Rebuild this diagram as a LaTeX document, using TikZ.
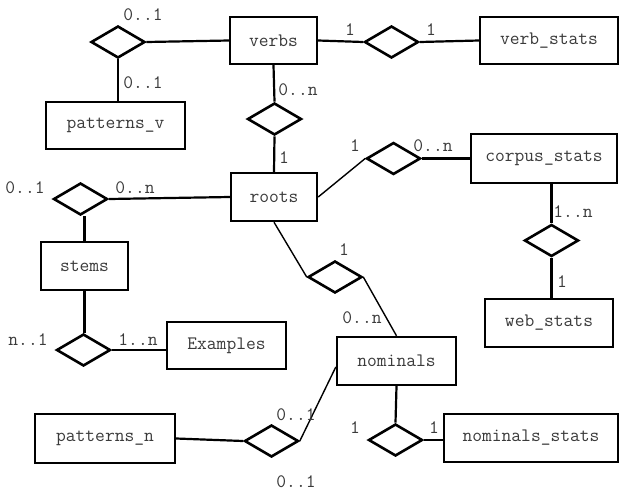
\documentclass[tikz,border=0pt]{standalone}
\usepackage{fontspec}
\usetikzlibrary{shapes.geometric}
\definecolor{txt}{HTML}{3A3A3A}
\tikzset{
  ent/.style={draw=black, line width=2.4pt, fill=white, inner sep=0pt, font=\ttfamily\fontsize{19}{19}\selectfont, text=txt},
  rel/.style={draw=black, line width=2.6pt, shape=diamond, inner sep=0pt, minimum width=54pt, minimum height=32pt},
  lnk/.style={draw=black, line width=2.2pt},
  thin/.style={draw=black, line width=1.4pt},
  lbl/.style={font=\ttfamily\fontsize{19}{19}\selectfont, text=txt, inner sep=0pt}
}
\begin{document}
\begin{tikzpicture}[x=1pt, y=-1pt]
\useasboundingbox (0,0) rectangle (626,491);
% entities
\node[ent, minimum width=87pt, minimum height=47pt] (verbs) at (273.5,40.5) {verbs};
\node[ent, minimum width=138pt, minimum height=47pt] (vs) at (549,40.5) {verb\_stats};
\node[ent, minimum width=139pt, minimum height=47pt] (pv) at (115.5,125.5) {patterns\_v};
\node[ent, minimum width=86pt, minimum height=48pt] (roots) at (274,197) {roots};
\node[ent, minimum width=146pt, minimum height=49pt] (cs) at (544,158.5) {corpus\_stats};
\node[ent, minimum width=128pt, minimum height=48pt] (ws) at (549,323) {web\_stats};
\node[ent, minimum width=87pt, minimum height=48pt] (stems) at (84.5,266) {stems};
\node[ent, minimum width=119pt, minimum height=47pt] (ex) at (226.5,345.5) {Examples};
\node[ent, minimum width=119pt, minimum height=48pt] (nom) at (396.5,361) {nominals};
\node[ent, minimum width=174pt, minimum height=48pt] (ns) at (531,438) {nominals\_stats};
\node[ent, minimum width=140pt, minimum height=49pt] (pn) at (105,438.5) {patterns\_n};
% relationships
\node[rel] (d1) at (118,42) {};
\node[rel] (d2) at (391.5,42) {};
\node[rel] (d3) at (274.5,119) {};
\node[rel] (d4) at (393.5,158.5) {};
\node[rel] (d5) at (551.5,240.5) {};
\node[rel] (d6) at (335,277) {};
\node[rel] (d7) at (395.5,440) {};
\node[rel] (d8) at (271.5,441) {};
\node[rel] (d9) at (80.5,199) {};
\node[rel] (d10) at (83.5,350) {};
% connectors
\draw[lnk] (verbs.west) -- (d1.east);
\draw[lnk] (d1.south) -- (d1.south |- pv.north);
\draw[lnk] (verbs.east) -- (d2.west);
\draw[lnk] (d2.east) -- (vs.west);
\draw[lnk] (verbs.south) -- (d3.north);
\draw[lnk] (d3.south) -- (roots.north);
\draw[thin] (roots.east) -- (d4.west);
\draw[lnk] (d4.east) -- (cs.west);
\draw[lnk] (d5.north) -- (d5.north |- cs.south);
\draw[lnk] (d5.south) -- (d5.south |- ws.north);
\draw[thin] (roots.south) -- (d6.west);
\draw[thin] (d6.east) -- (nom.north);
\draw[lnk] (nom.south) -- (d7.north);
\draw[lnk] (d7.east) -- (d7.east -| ns.west);
\draw[lnk] (pn.east) -- (d8.west);
\draw[thin] (d8.east) -- ([yshift=-6pt]nom.west);
\draw[lnk] (d9.east) -- (roots.west);
\draw[lnk] (stems.north) -- (stems.north |- d9.south);
\draw[lnk] (stems.south) -- (stems.south |- d10.north);
\draw[lnk] (d10.east) -- (d10.east -| ex.west);
% labels
\node[lbl] (l1) at (143,15) {0..1};
\node[lbl] (l2) at (143,83) {0..1};
\node[lbl] (l3) at (350,30) {1};
\node[lbl] (l4) at (431,30) {1};
\node[lbl] (l5) at (298,90) {0..n};
\node[lbl] (l6) at (284,158) {1};
\node[lbl] (l7) at (355,146) {1};
\node[lbl] (l8) at (433,146) {0..n};
\node[lbl] (l9) at (25,188) {0..1};
\node[lbl] (l10) at (135,188) {0..n};
\node[lbl] (l11) at (573,212) {1..n};
\node[lbl] (l12) at (562,282) {1};
\node[lbl] (l13) at (344,250) {1};
\node[lbl] (l14) at (362,318) {0..n};
\node[lbl] (l15) at (28,340) {n..1};
\node[lbl] (l16) at (138,340) {1..n};
\node[lbl] (l17) at (296,415) {0..1};
\node[lbl] (l18) at (296,482) {0..1};
\node[lbl] (l19) at (355,428) {1};
\node[lbl] (l20) at (434,428) {1};
\end{tikzpicture}
\end{document}
